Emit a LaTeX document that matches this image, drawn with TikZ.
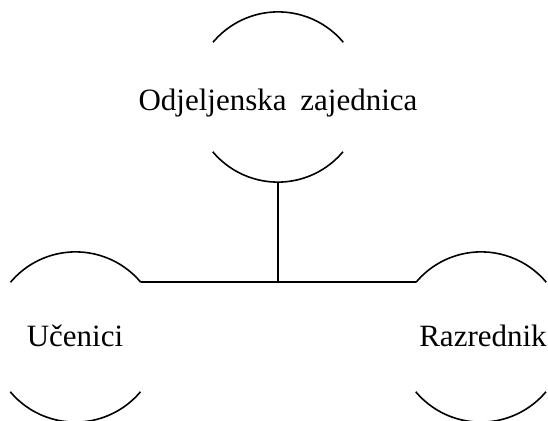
\documentclass[tikz,border=0pt]{standalone}
\usepackage{fontspec}
\setmainfont{Liberation Serif}
\begin{document}
\begin{tikzpicture}[x=1pt,y=-1pt,
  ring/.style={circle, minimum size=170pt, inner sep=0pt, draw=none},
  lbl/.style={font=\fontsize{31}{36}\selectfont, anchor=base, inner sep=0pt},
  arcline/.style={line width=1.6pt},
  conn/.style={line width=1.6pt}]
\useasboundingbox (0,0) rectangle (548,420);
\clip (0,0) rectangle (548,420);
% circles (centres)
\node[ring] (top) at (278,97) {};
\node[ring] (left) at (75.5,337) {};
\node[ring] (right) at (481,337) {};
% labels
\node[lbl] (topt) at (278,110) {Odjeljenska\hspace{6pt} zajednica};
\node[lbl] (leftt) at (75,346.5) {Učenici};
\node[lbl] (rightt) at (483,346) {Razrednik};
% arcs
\foreach \n in {top,left,right}{
  \draw[arcline] (\n.40) arc[start angle=40, end angle=140, radius=85pt];
  \draw[arcline] (\n.-140) arc[start angle=-140, end angle=-40, radius=85pt];
}
% connectors
\draw[conn] (left.40) -- (right.140);
\draw[conn] (top.south) -- (top.south |- left.40);
\end{tikzpicture}
\end{document}
